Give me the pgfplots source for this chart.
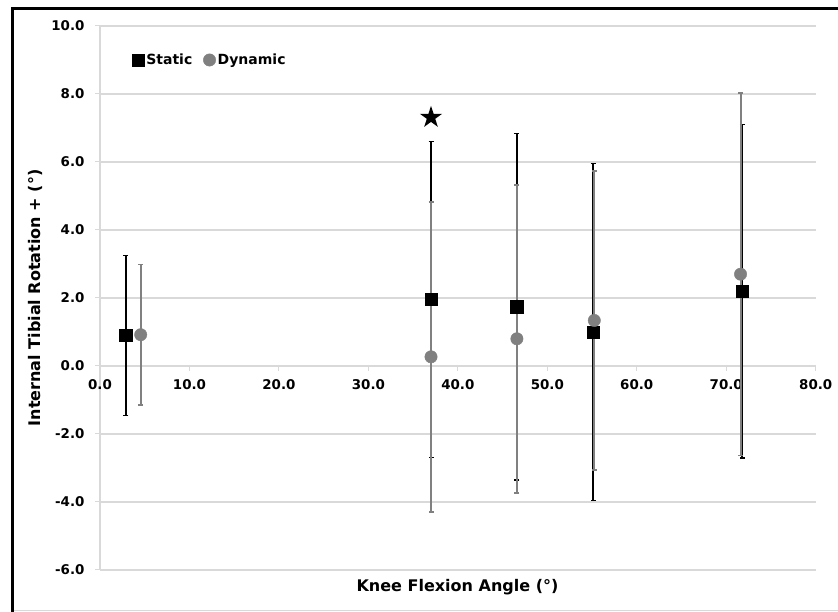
\documentclass[border=0pt]{standalone}
\usepackage{pgfplots}
\pgfplotsset{compat=1.18}
\usepackage{fontspec}
\setmainfont{DejaVu Sans}

\definecolor{dyngray}{HTML}{808080}
\definecolor{gridgray}{HTML}{D9D9D9}

% filled five-point star for the significance mark
\pgfdeclareplotmark{fstar}{%
  \pgfpathmoveto{\pgfqpointpolar{90}{\pgfplotmarksize}}%
  \pgfpathlineto{\pgfqpointpolar{126}{0.382\pgfplotmarksize}}%
  \pgfpathlineto{\pgfqpointpolar{162}{\pgfplotmarksize}}%
  \pgfpathlineto{\pgfqpointpolar{198}{0.382\pgfplotmarksize}}%
  \pgfpathlineto{\pgfqpointpolar{234}{\pgfplotmarksize}}%
  \pgfpathlineto{\pgfqpointpolar{270}{0.382\pgfplotmarksize}}%
  \pgfpathlineto{\pgfqpointpolar{306}{\pgfplotmarksize}}%
  \pgfpathlineto{\pgfqpointpolar{342}{0.382\pgfplotmarksize}}%
  \pgfpathlineto{\pgfqpointpolar{18}{\pgfplotmarksize}}%
  \pgfpathlineto{\pgfqpointpolar{54}{0.382\pgfplotmarksize}}%
  \pgfpathclose\pgfusepathqfill}

\begin{document}
\begin{tikzpicture}
\begin{axis}[
    at={(100pt,42pt)}, anchor=south west,
    scale only axis,
    width=715.7pt, height=544pt,
    xmin=0, xmax=80, ymin=-6, ymax=10,
    xtick={0,10,...,80},
    ytick={-6,-4,...,10},
    axis x line=middle,
    axis y line=left,
    hide obscured x ticks=false,
    hide obscured y ticks=false,
    axis line style={gridgray, line width=1.2pt, -},
    tick align=outside,
    major tick length=5pt,
    tick style={gridgray, line width=1pt},
    ymajorgrids=true,
    grid style={gridgray, line width=1.2pt},
    /pgf/number format/.cd, fixed, fixed zerofill, precision=1, assume math mode=true,
    /pgfplots/.cd,
    ticklabel style={font=\bfseries\fontsize{13.4}{16}\selectfont},
    yticklabel style={xshift=-7pt},
    xticklabel style={yshift=-5pt},
    legend style={draw=none, fill=none, at={(axis cs:3.2,9.0)}, anchor=west,
        font=\bfseries\fontsize{14}{16}\selectfont,
        /tikz/every even column/.append style={column sep=9pt}},
    legend columns=2,
    legend cell align=left,
]

% error bars first, so that all markers sit on top
\addplot[only marks, mark=none, forget plot,
    error bars/.cd, y dir=both, y explicit,
    error bar style={black, line width=2pt},
    error mark options={black, rotate=90, mark size=2.5pt, line width=1.5pt}]
  coordinates {
    (2.9,0.90)  +- (0,2.35)
    (37.0,1.96) +- (0,4.65)
    (46.6,1.74) +- (0,5.10)
    (55.15,1.00) +- (0,4.96)
    (71.8,2.20) +- (0,4.90)
  };
\addplot[only marks, mark=none, forget plot,
    error bars/.cd, y dir=both, y explicit,
    error bar style={dyngray, line width=2pt},
    error mark options={dyngray, rotate=90, mark size=2.5pt, line width=1.5pt}]
  coordinates {
    (4.55,0.92)  +- (0,2.07)
    (37.0,0.27)  +- (0,4.56)
    (46.6,0.80)  +- (0,4.53)
    (55.25,1.34) +- (0,4.40)
    (71.6,2.70)  +- (0,5.33)
  };

\addplot[only marks, mark=square*, mark size=6.25pt, black, mark options={fill=black}]
  coordinates {(2.9,0.90) (37.0,1.96) (46.6,1.74) (55.15,1.00) (71.8,2.20)};
\addlegendentry{Static}
\addplot[only marks, mark=*, mark size=6.2pt, dyngray, mark options={fill=dyngray}]
  coordinates {(4.55,0.92) (37.0,0.27) (46.6,0.80) (55.25,1.34) (71.6,2.70)};
\addlegendentry{Dynamic}

\addplot[only marks, mark=fstar, mark size=11.6pt, black, forget plot]
  coordinates {(37.0,7.31)};
\end{axis}

\node[rotate=90, font=\bfseries\fontsize{16}{18}\selectfont] at (35pt,314pt)
  {Internal Tibial Rotation + (°)};
\node[font=\bfseries\fontsize{16}{18}\selectfont] at (457.5pt,25pt)
  {Knee Flexion Angle (°)};

\draw[gridgray, line width=0.8pt] (12pt,2pt) -- (838pt,2pt);
\draw[black, line width=3pt] (12.7pt,0pt) -- (12.7pt,603.3pt) -- (838pt,603.3pt);

\pgfresetboundingbox
\useasboundingbox (0,0) rectangle (838pt,612pt);
\end{tikzpicture}
\end{document}
